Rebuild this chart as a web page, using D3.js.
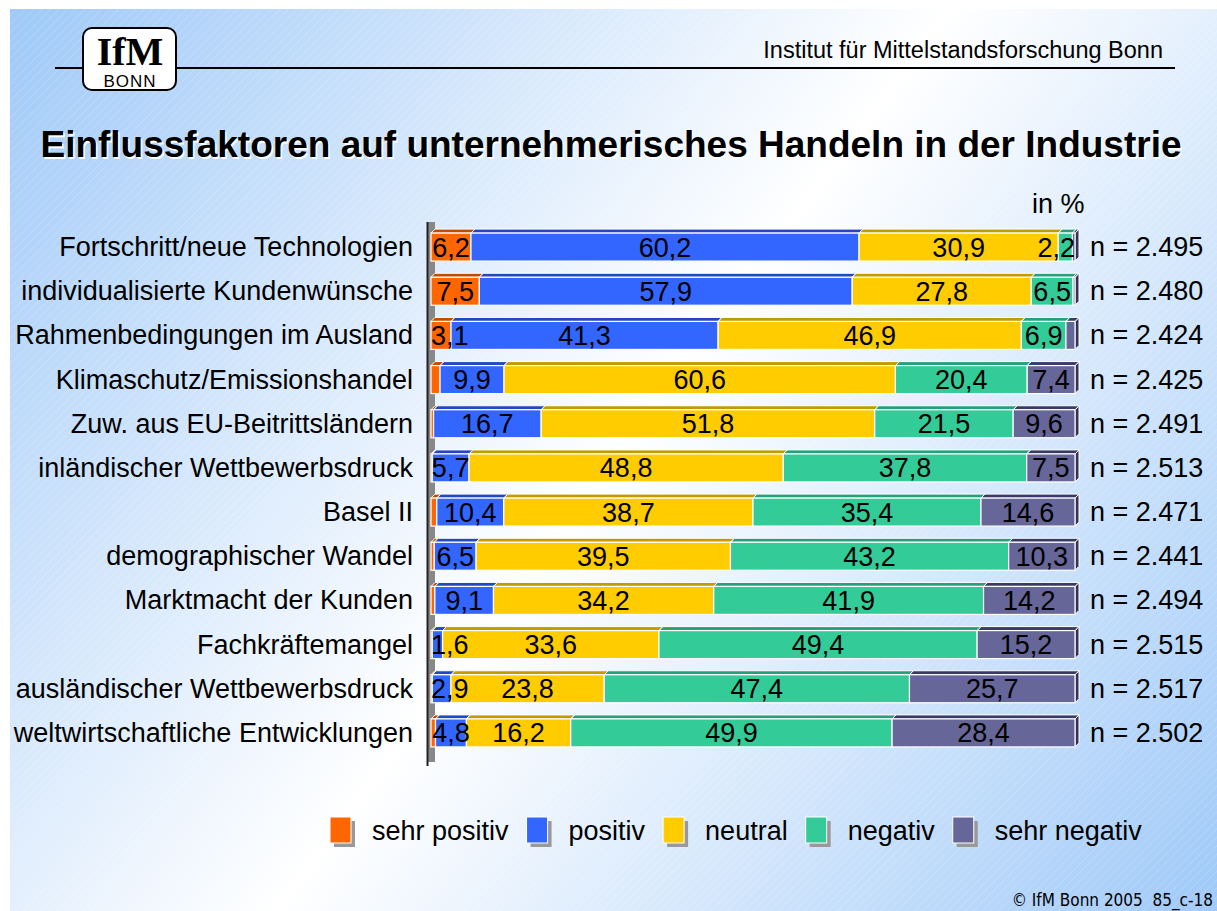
<!DOCTYPE html>
<html>
<head>
<meta charset="utf-8">
<script src="https://cdn.jsdelivr.net/npm/d3@7"></script>
<style>
  body { margin: 0; background: #fff; }
  svg { display: block; }
  text { font-family: "Liberation Sans", Arial, sans-serif; }
</style>
</head>
<body>
<div id="chart"></div>
<script>
// categories (top to bottom) and n per row
var categories = [
    "Fortschritt/neue Technologien",
    "individualisierte Kundenwünsche",
    "Rahmenbedingungen im Ausland",
    "Klimaschutz/Emissionshandel",
    "Zuw. aus EU-Beitrittsländern",
    "inländischer Wettbewerbsdruck",
    "Basel II",
    "demographischer Wandel",
    "Marktmacht der Kunden",
    "Fachkräftemangel",
    "ausländischer Wettbewerbsdruck",
    "weltwirtschaftliche Entwicklungen"
]
var nValues = ["2.495", "2.480", "2.424", "2.425", "2.491", "2.513", "2.471", "2.441", "2.494", "2.515", "2.517", "2.502"]

// shares in %
var sehrPositiv = [6.2, 7.5, 3.1, 1.4, 0.4, 0.2, 0.9, 0.5, 0.6, 0.2, 0.2, 0.7]
var positiv     = [60.2, 57.9, 41.3, 9.9, 16.7, 5.7, 10.4, 6.5, 9.1, 1.6, 2.9, 4.8]
var neutral     = [30.9, 27.8, 46.9, 60.6, 51.8, 48.8, 38.7, 39.5, 34.2, 33.6, 23.8, 16.2]
var negativ     = [2.2, 6.5, 6.9, 20.4, 21.5, 37.8, 35.4, 43.2, 41.9, 49.4, 47.4, 49.9]
var sehrNegativ = [0.4, 0.3, 1.4, 7.4, 9.6, 7.5, 14.6, 10.3, 14.2, 15.2, 25.7, 28.4]

var seriesNames = ["sehr positiv", "positiv", "neutral", "negativ", "sehr negativ"]
var seriesColors = ["#ff6600", "#3366ff", "#ffcc00", "#33cc99", "#666699"]
var seriesDark = ["#c04c00", "#2446c0", "#c09c00", "#26a07a", "#3a3a66"]

var rows = categories.map(function(c, i) {
    return {
        cat: c, n: nValues[i],
        "sehr positiv": sehrPositiv[i], "positiv": positiv[i], "neutral": neutral[i],
        "negativ": negativ[i], "sehr negativ": sehrNegativ[i]
    }
})

var width = 1217, height = 911
var fs = 27 // main label size

var svg = d3.select("#chart").append("svg")
    .attr("width", width)
    .attr("height", height)

var defs = svg.append("defs")
var grad = defs.append("linearGradient")
    .attr("id", "bg")
    .attr("gradientUnits", "userSpaceOnUse")
    .attr("x1", 10).attr("y1", 9).attr("x2", width).attr("y2", height)
grad.append("stop").attr("offset", "0%").attr("stop-color", "#9fc9f8")
grad.append("stop").attr("offset", "50%").attr("stop-color", "#ffffff")
grad.append("stop").attr("offset", "100%").attr("stop-color", "#9fc9f8")

var pat = defs.append("pattern")
    .attr("id", "stripes")
    .attr("patternUnits", "userSpaceOnUse")
    .attr("width", 6).attr("height", 6)
    .attr("patternTransform", "rotate(45)")
pat.append("line")
    .attr("x1", 0).attr("y1", 0).attr("x2", 0).attr("y2", 6)
    .attr("stroke", "#ffffff").attr("stroke-width", 1).attr("stroke-opacity", 0.3)

// slide background
svg.append("rect").attr("x", 10).attr("y", 9).attr("width", width - 10).attr("height", height - 9)
    .attr("fill", "url(#bg)")
svg.append("rect").attr("x", 10).attr("y", 9).attr("width", width - 10).attr("height", height - 9)
    .attr("fill", "url(#stripes)")

// header
svg.append("line")
    .attr("x1", 55).attr("x2", 1175).attr("y1", 68).attr("y2", 68)
    .attr("stroke", "#000").attr("stroke-width", 2)
svg.append("text")
    .attr("x", 1163).attr("y", 58)
    .attr("text-anchor", "end")
    .style("font-size", "23.5px")
    .text("Institut für Mittelstandsforschung Bonn")

var logo = svg.append("g")
logo.append("rect")
    .attr("x", 83).attr("y", 28).attr("width", 93).attr("height", 62).attr("rx", 9)
    .attr("fill", "#fff").attr("stroke", "#000").attr("stroke-width", 2)
logo.append("text")
    .attr("x", 130).attr("y", 65)
    .attr("text-anchor", "middle")
    .style("font-family", "'Liberation Serif', 'DejaVu Serif', serif")
    .style("font-size", "40px").style("font-weight", "bold")
    .text("IfM")
logo.append("text")
    .attr("x", 130).attr("y", 87)
    .attr("text-anchor", "middle")
    .style("font-size", "17px")
    .style("letter-spacing", "1px")
    .text("BONN")

// title
var title = "Einflussfaktoren auf unternehmerisches Handeln in der Industrie"
svg.append("text")
    .attr("x", 612.5).attr("y", 158.5)
    .attr("text-anchor", "middle")
    .style("font-size", "37px").style("font-weight", "bold")
    .attr("fill", "#fff")
    .text(title)
svg.append("text")
    .attr("x", 611).attr("y", 157)
    .attr("text-anchor", "middle")
    .style("font-size", "37px").style("font-weight", "bold")
    .text(title)

svg.append("text")
    .attr("x", 1032).attr("y", 213)
    .style("font-size", fs + "px")
    .text("in %")

// scales
var x = d3.scaleLinear().domain([0, 1]).range([431, 1075])
var y = d3.scalePoint().domain(categories).range([225, 755]).padding(0.5)
var barH = 28, depth = 4

var stack = d3.stack().keys(seriesNames).offset(d3.stackOffsetExpand)
var stacked = stack(rows)

// axis wall
svg.append("rect")
    .attr("x", 428).attr("y", 222).attr("width", 7).attr("height", 540)
    .attr("fill", "#888")
svg.append("line")
    .attr("x1", 427.5).attr("x2", 427.5).attr("y1", 222).attr("y2", 766)
    .attr("stroke", "#222").attr("stroke-width", 2)

var fmt = function(v) { return d3.format(".1f")(v).replace(".", ",") }

// side face on the right end
svg.append("g").selectAll("path")
    .data(stacked[stacked.length - 1])
    .enter().append("path")
    .attr("d", function(d) {
        var x1 = x(d[1]), yt = y(d.data.cat) - barH / 2
        return "M" + x1 + "," + yt + "L" + (x1 + depth) + "," + (yt - depth) +
            "L" + (x1 + depth) + "," + (yt + barH - depth) + "L" + x1 + "," + (yt + barH) + "Z"
    })
    .attr("fill", "#333355")
    .attr("stroke", "#fff").attr("stroke-width", 1)

var layers = svg.append("g").selectAll("g")
    .data(stacked)
    .enter().append("g")

// top faces
layers.each(function(s, si) {
    d3.select(this).selectAll(".top")
        .data(s)
        .enter().append("path")
        .attr("class", "top")
        .attr("d", function(d) {
            var x0 = x(d[0]), x1 = x(d[1]), yt = y(d.data.cat) - barH / 2
            if (x1 - x0 < 0.2) return null
            return "M" + x0 + "," + yt + "L" + (x0 + depth) + "," + (yt - depth) +
                "L" + (x1 + depth) + "," + (yt - depth) + "L" + x1 + "," + yt + "Z"
        })
        .attr("fill", seriesDark[si])
        .attr("stroke", "#fff").attr("stroke-width", 1)
})

// front faces
layers.each(function(s, si) {
    d3.select(this).selectAll(".front")
        .data(s)
        .enter().append("rect")
        .attr("class", "front")
        .attr("x", function(d) { return x(d[0]) })
        .attr("y", function(d) { return y(d.data.cat) - barH / 2 })
        .attr("width", function(d) { return Math.max(0, x(d[1]) - x(d[0])) })
        .attr("height", barH)
        .attr("fill", seriesColors[si])
        .attr("stroke", "#fff").attr("stroke-width", 1.2)
})

// value labels on top of everything, kept inside the bar ends
var labelG = svg.append("g")
stacked.forEach(function(s) {
    labelG.selectAll(".val-" + s.index)
        .data(s.filter(function(d) { return d.data[s.key] >= 1.5 }))
        .enter().append("text")
        .attr("class", "val-" + s.index)
        .attr("y", function(d) { return y(d.data.cat) + 9.5 })
        .attr("text-anchor", "middle")
        .style("font-size", fs + "px")
        .text(function(d) { return fmt(d.data[s.key]) })
        .attr("x", function(d) {
            var half = this.getComputedTextLength() / 2
            var cx = (x(d[0]) + x(d[1])) / 2
            return Math.min(Math.max(cx, x(0) + half), x(1) - half)
        })
})

// category labels
svg.append("g").selectAll("text")
    .data(rows)
    .enter().append("text")
    .attr("x", 413)
    .attr("y", function(d) { return y(d.cat) + 9 })
    .attr("text-anchor", "end")
    .style("font-size", fs + "px")
    .text(function(d) { return d.cat })

// n labels
svg.append("g").selectAll("text")
    .data(rows)
    .enter().append("text")
    .attr("x", 1090)
    .attr("y", function(d) { return y(d.cat) + 9 })
    .style("font-size", fs + "px")
    .text(function(d) { return "n = " + d.n })

// legend
var legend = svg.append("g")
var lx = 330
seriesNames.forEach(function(name, i) {
    legend.append("rect")
        .attr("x", lx + 4).attr("y", 821).attr("width", 21).attr("height", 26)
        .attr("fill", "#999")
    legend.append("rect")
        .attr("x", lx).attr("y", 817).attr("width", 21).attr("height", 26)
        .attr("fill", seriesColors[i]).attr("stroke", "#fff").attr("stroke-width", 1)
    var t = legend.append("text")
        .attr("x", lx + 42).attr("y", 840)
        .style("font-size", fs + "px")
        .text(name)
    lx = lx + 42 + t.node().getComputedTextLength() + 18
})

// footer
svg.append("text")
    .attr("x", 1213).attr("y", 906)
    .attr("text-anchor", "end")
    .style("font-family", "'DejaVu Sans Condensed', 'DejaVu Sans', sans-serif")
    .style("font-size", "17px")
    .attr("xml:space", "preserve")
    .text("© IfM Bonn 2005  85_c-18")
</script>
</body>
</html>
